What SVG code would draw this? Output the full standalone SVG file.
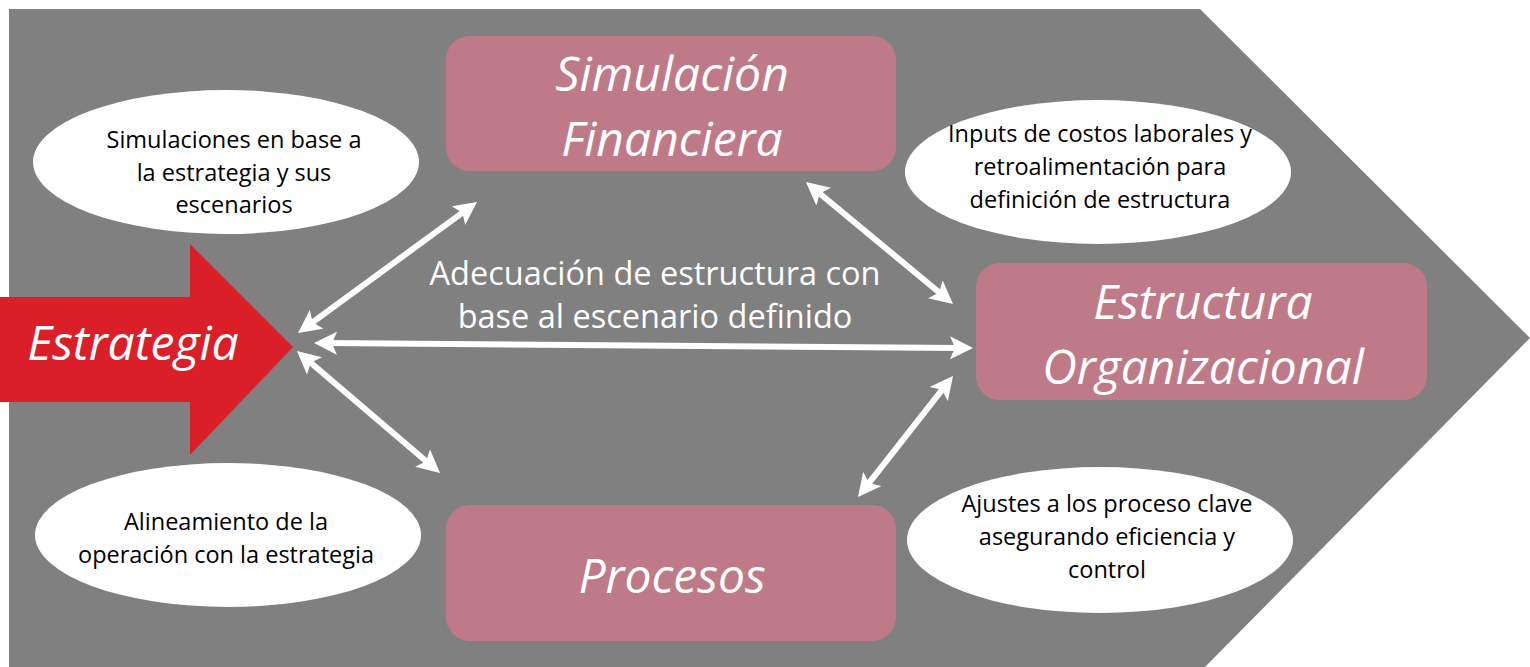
<svg xmlns="http://www.w3.org/2000/svg" width="1530" height="667" viewBox="0 0 1530 667">
<defs>
<style>
.box{fill:#BF7A88}
.ell{fill:#FFFFFF}
.title{font-family:"Open Sans","Liberation Sans",sans-serif;font-style:italic;font-size:48px;fill:#FFFFFF;text-anchor:middle}
.lbl{font-family:"Open Sans","Liberation Sans",sans-serif;font-size:23.5px;fill:#000000;text-anchor:middle}
.mid{font-family:"Open Sans","Liberation Sans",sans-serif;font-size:32.5px;fill:#FFFFFF;text-anchor:middle}
.con{stroke:#FFFFFF;stroke-width:6;fill:none;marker-start:url(#ah);marker-end:url(#ah)}
</style>
<marker id="ah" markerUnits="userSpaceOnUse" viewBox="0 0 23 23" markerWidth="23" markerHeight="23" refX="11" refY="11.5" orient="auto-start-reverse">
<path d="M0,0 L23,11.5 L0,23 L5,11.5 z" fill="#FFFFFF"/>
</marker>
</defs>
<rect width="1530" height="667" fill="#FFFFFF"/>
<polygon id="chevron" points="9,9 1200,9 1530,338 1205,667 9,667" fill="#808080"/>
<g id="estrategia">
<polygon points="0,297 190,297 190,244 293,347 190,455 190,402 0,402" fill="#DA1F29"/>
<text class="title" x="133" y="360">Estrategia</text>
</g>
<g id="simulacion">
<rect class="box" x="446" y="36" width="450" height="135" rx="24"/>
<text class="title" x="672" y="91">Simulación</text>
<text class="title" x="672" y="156">Financiera</text>
</g>
<g id="estructura">
<rect class="box" x="976" y="263" width="451" height="137" rx="24"/>
<text class="title" x="1203" y="319">Estructura</text>
<text class="title" x="1203" y="384">Organizacional</text>
</g>
<g id="procesos">
<rect class="box" x="446" y="505" width="450" height="136" rx="24"/>
<text class="title" x="672" y="593">Procesos</text>
</g>
<g id="nota-simulaciones">
<ellipse class="ell" cx="226" cy="162" rx="193" ry="72"/>
<text class="lbl" x="234" y="148">Simulaciones en base a</text>
<text class="lbl" x="234" y="181">la estrategia y sus</text>
<text class="lbl" x="234" y="213">escenarios</text>
</g>
<g id="nota-alineamiento">
<ellipse class="ell" cx="228" cy="535" rx="193" ry="72"/>
<text class="lbl" x="226" y="530">Alineamiento de la</text>
<text class="lbl" x="226" y="563">operación con la estrategia</text>
</g>
<g id="nota-inputs">
<ellipse class="ell" cx="1098" cy="172" rx="193" ry="72"/>
<text class="lbl" x="1100" y="142">Inputs de costos laborales y</text>
<text class="lbl" x="1100" y="175">retroalimentación para</text>
<text class="lbl" x="1100" y="208">definición de estructura</text>
</g>
<g id="nota-ajustes">
<ellipse class="ell" cx="1100" cy="540" rx="193" ry="73"/>
<text class="lbl" x="1107" y="512">Ajustes a los proceso clave</text>
<text class="lbl" x="1107" y="545">asegurando eficiencia y</text>
<text class="lbl" x="1107" y="578">control</text>
</g>
<g id="etiqueta-central">
<text class="mid" x="655" y="285">Adecuación de estructura con</text>
<text class="mid" x="655" y="328">base al escenario definido</text>
</g>
<g id="connectors">
<line class="con" x1="307.7" y1="325.9" x2="467.3" y2="209.1"/>
<line class="con" x1="326" y1="343.1" x2="961" y2="347.9"/>
<line class="con" x1="306.1" y1="358.8" x2="430.9" y2="465.2"/>
<line class="con" x1="815.2" y1="189.7" x2="943.8" y2="296.3"/>
<line class="con" x1="945.6" y1="385.4" x2="865.4" y2="487.6"/>
</g>
</svg>
